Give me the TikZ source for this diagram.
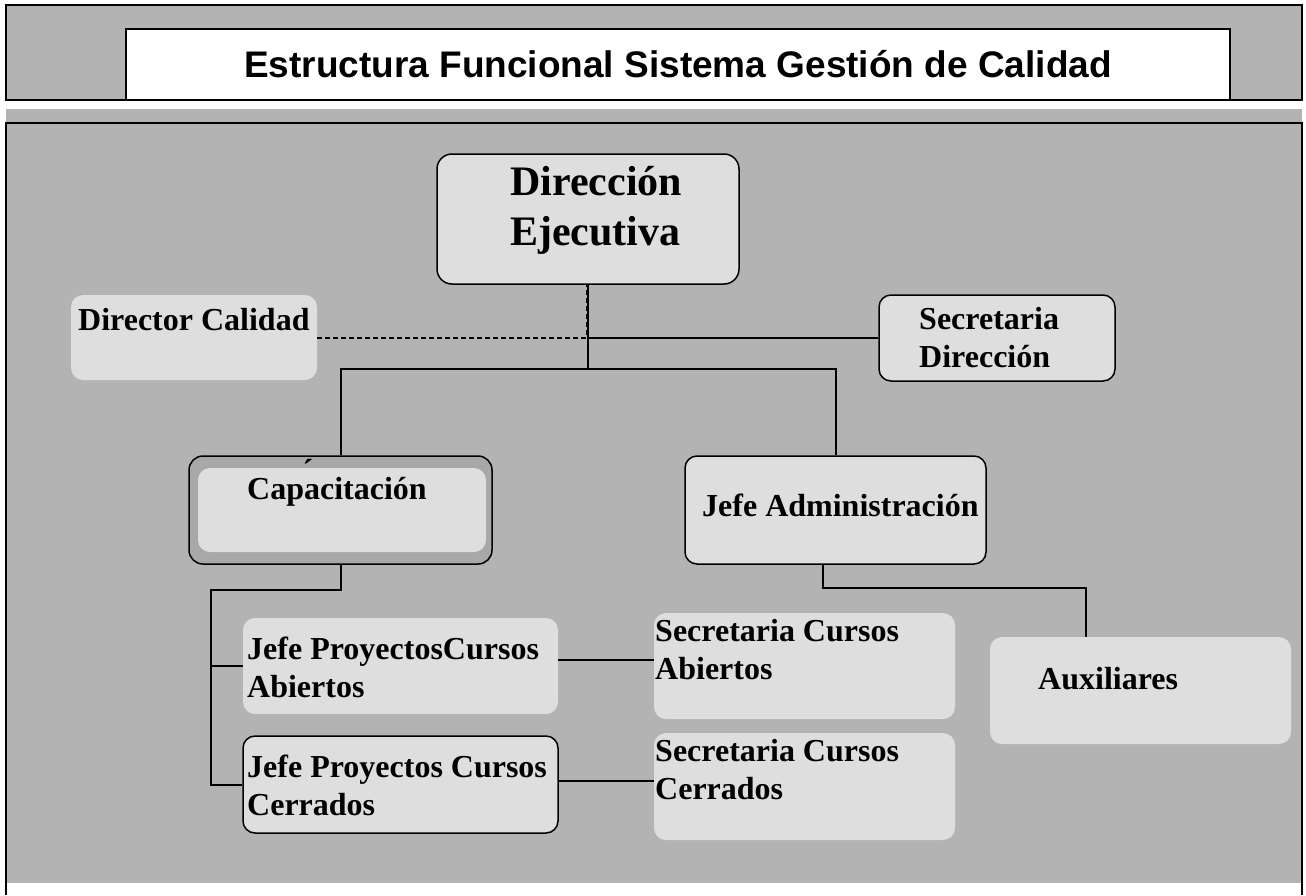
\documentclass[tikz,border=0pt]{standalone}
\usepackage{fontspec}
\setmainfont{Liberation Serif}
\newfontfamily\titlefont{Liberation Sans}
\usetikzlibrary{calc}
\definecolor{panelgray}{RGB}{179,179,179}
\definecolor{boxgray}{RGB}{222,222,222}
\definecolor{ringgray}{RGB}{168,168,168}
\tikzset{
	cargo/.style={rounded corners=12pt, fill=boxgray, inner sep=0pt},
	cargoline/.style={cargo, draw=black, line width=1.5pt},
	rotulo/.style={anchor=base west, inner sep=0pt, align=left, font=\bfseries\fontsize{32}{38}\selectfont},
	enlace/.style={line width=2pt},
}

\begin{document}
\begin{tikzpicture}[x=1pt, y=-1pt]
		%%%%% START %%%%%
		\useasboundingbox (0, 0) rectangle (1306, 895);
		
		\fill[panelgray] (6, 5) rectangle (1302, 100);
		\draw[line width=1.5pt] (6, 5) rectangle (1302, 100);
		\node[draw, line width=2.5pt, fill=white, inner sep=0pt, minimum width=1104pt, minimum height=71pt, font=\titlefont\bfseries\fontsize{37}{44}\selectfont] (titulo) at (678, 64.5) {Estructura Funcional Sistema Gestión de Calidad};
		
		\fill[panelgray] (6, 109) rectangle (1302, 123);
		\fill[panelgray] (6, 123) rectangle (1302, 883);
		\draw[line width=2pt] (6, 895) -- (6, 123) -- (1302, 123) -- (1302, 895);
		
		\node[cargoline, rounded corners=15pt, minimum width=302pt, minimum height=130pt] (dir) at (588, 219) {};
		\node[rotulo, font=\bfseries\fontsize{42}{50}\selectfont] (dirTxt) at (510, 245) {Dirección\\Ejecutiva};
		
		\node[cargo, minimum width=246pt, minimum height=85pt] (dircal) at (194, 337.5) {};
		\node[rotulo] (dircalTxt) at (78, 330) {Director Calidad};
		
		\node[cargoline, minimum width=236pt, minimum height=86pt] (secdir) at (997, 338) {};
		\node[rotulo] (secdirTxt) at (919, 367) {Secretaria\\Dirección};
		
		\node[cargoline, fill=ringgray, rounded corners=14pt, minimum width=303pt, minimum height=108pt] (capa) at (340.5, 510) {};
		\node[cargo, minimum width=288pt, minimum height=84pt] (capaIn) at (342, 510) {};
		\node[rotulo] (capaTxt) at (247, 499) {Capacitación};
		\node[anchor=base, inner sep=0pt, font=\bfseries\fontsize{32}{38}\selectfont] (capaAcento) at (308, 466) {\smash{\raisebox{-15pt}{´}}};
		
		\node[cargoline, minimum width=301pt, minimum height=108pt] (admin) at (835.5, 510) {};
		\node[rotulo] (adminTxt) at (702, 516) {Jefe Administración};
		
		\node[cargo, minimum width=315pt, minimum height=96pt] (jpca) at (400.5, 666) {};
		\node[rotulo] (jpcaTxt) at (247, 697) {Jefe ProyectosCursos\\Abiertos};
		
		\node[cargoline, minimum width=315pt, minimum height=97pt] (jpcc) at (400.5, 784.5) {};
		\node[rotulo] (jpccTxt) at (247, 815) {Jefe Proyectos Cursos\\Cerrados};
		
		\node[cargo, minimum width=301pt, minimum height=106pt] (sca) at (804.5, 666) {};
		\node[rotulo] (scaTxt) at (655, 679) {Secretaria Cursos\\Abiertos};
		
		\node[cargo, minimum width=301pt, minimum height=107pt] (scc) at (804.5, 786.5) {};
		\node[rotulo] (sccTxt) at (655, 799) {Secretaria Cursos\\Cerrados};
		
		\node[cargo, minimum width=301pt, minimum height=107pt] (aux) at (1140.5, 690.5) {};
		\node[rotulo] (auxTxt) at (1038, 689) {Auxiliares};
		
		\coordinate (bus) at (588, 369);
		\coordinate (capaRama) at (211, 590);
		\coordinate (adminRama) at (1086, 588);
		
		\draw[enlace, dash pattern=on 5pt off 3pt] (dircal.east) -- ([xshift=-1.5pt]dir.south |- dircal.east) -- ([xshift=-1.5pt]dir.south);
		\draw[enlace] (dir.south) -- (bus);
		\draw[enlace] (dir.south |- secdir.west) -- (secdir.west);
		\draw[enlace] (capa.north) -- (capa.north |- bus) -- (admin.north |- bus) -- (admin.north);
		
		\draw[enlace] (capa.south) |- (capaRama) -- (capaRama |- jpcc.west) -- (jpcc.west);
		\draw[enlace] (capaRama |- jpca.west) -- (jpca.west);
		\draw[enlace] ([yshift=6pt]jpca.east) -- ([yshift=6pt]sca.west);
		\draw[enlace] ([yshift=4pt]jpcc.east) -- ([yshift=4pt]jpcc.east -| scc.west);
		
		\draw[enlace] ([xshift=-13pt]admin.south) |- (adminRama) -- (adminRama |- aux.north);
		%%%%% END %%%%%
\end{tikzpicture}
\end{document}
